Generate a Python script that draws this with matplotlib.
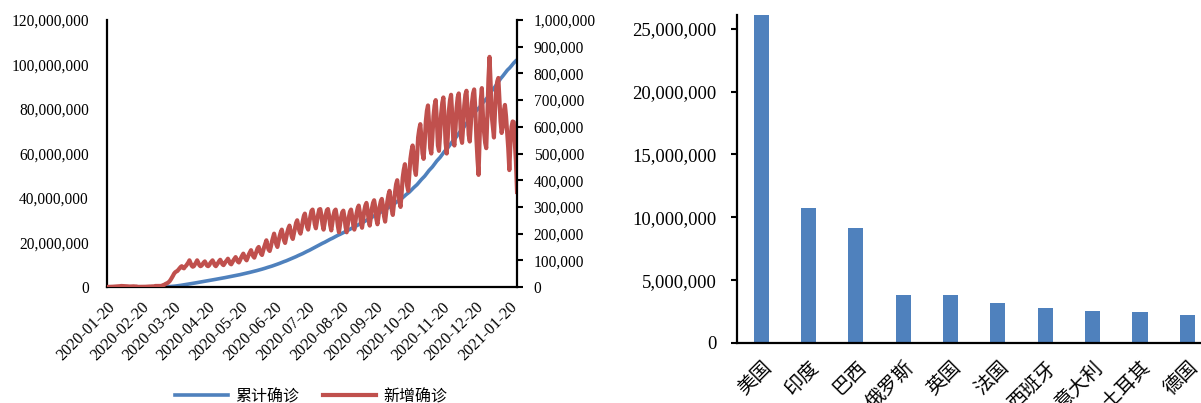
import numpy as np
import pandas as pd
import matplotlib
matplotlib.use("Agg")
import matplotlib.pyplot as plt
from matplotlib.ticker import FuncFormatter, MultipleLocator
from matplotlib.font_manager import FontProperties

# ---------------- data ----------------
start_date = "2020-01-20"

# daily new confirmed cases worldwide, in thousands (one row per week)
new_cases_k = [
    0.3, 0.4, 0.6, 0.7, 0.8, 1.1, 1.5,
    1.7, 2.0, 2.1, 2.6, 2.8, 3.2, 3.9,
    3.7, 3.2, 3.4, 2.7, 3.0, 2.5, 2.0,
    2.0, 2.1, 2.5, 2.6, 2.1, 2.0, 1.9,
    0.6, 0.6, 1.0, 1.0, 0.7, 0.7, 0.8,
    1.0, 1.3, 1.4, 1.8, 2.0, 1.9, 2.4,
    2.3, 2.8, 3.9, 4.0, 3.9, 4.0, 4.6,
    4, 5, 7, 8, 11, 13, 15,
    18, 22, 28, 35, 42, 50, 55,
    58, 60, 65, 70, 75, 78, 72,
    70, 76, 80, 86, 92, 100, 90,
    80, 76, 78, 85, 92, 100, 92,
    82, 78, 80, 86, 92, 96, 88,
    80, 78, 82, 90, 95, 100, 92,
    82, 78, 84, 90, 97, 102, 94,
    85, 82, 88, 95, 100, 106, 98,
    88, 85, 92, 100, 106, 112, 104,
    95, 92, 100, 110, 118, 125, 115,
    105, 100, 110, 122, 130, 138, 125,
    115, 110, 122, 135, 145, 150, 138,
    125, 120, 135, 150, 162, 175, 155,
    140, 135, 150, 170, 185, 200, 180,
    160, 150, 170, 190, 205, 215, 195,
    175, 165, 185, 205, 220, 230, 210,
    190, 180, 200, 220, 240, 250, 230,
    210, 200, 220, 245, 265, 275, 250,
    225, 215, 240, 265, 285, 290, 265,
    235, 220, 245, 270, 290, 292, 270,
    235, 215, 240, 270, 288, 292, 268,
    232, 212, 240, 268, 285, 290, 265,
    228, 205, 235, 262, 280, 286, 262,
    225, 205, 232, 262, 282, 290, 265,
    232, 215, 245, 275, 295, 305, 280,
    240, 222, 250, 285, 305, 315, 290,
    250, 230, 260, 295, 315, 325, 300,
    255, 235, 265, 300, 320, 330, 305,
    265, 245, 280, 320, 345, 360, 330,
    290, 270, 310, 355, 385, 400, 365,
    320, 300, 350, 410, 440, 460, 420,
    380, 360, 420, 480, 510, 530, 490,
    440, 420, 480, 560, 590, 610, 560,
    500, 480, 540, 620, 660, 680, 610,
    520, 500, 560, 640, 680, 700, 630,
    530, 510, 570, 650, 690, 710, 640,
    540, 500, 560, 660, 700, 720, 650,
    550, 530, 590, 670, 710, 725, 660,
    560, 540, 600, 680, 720, 735, 665,
    570, 545, 610, 690, 725, 740, 670,
    560, 480, 420, 560, 700, 745, 640,
    580, 540, 520, 640, 780, 862, 760,
    640, 600, 560, 660, 740, 770, 783,
    700, 620, 577, 600, 660, 682, 640,
    580, 520, 438, 540, 600, 620, 618,
    540, 470, 356,
]

date_ticks = ["2020-01-20", "2020-02-20", "2020-03-20", "2020-04-20",
              "2020-05-20", "2020-06-20", "2020-07-20", "2020-08-20",
              "2020-09-20", "2020-10-20", "2020-11-20", "2020-12-20",
              "2021-01-20"]

series_names = ["累计确诊", "新增确诊"]

countries = ["美国", "印度", "巴西", "俄罗斯", "英国", "法国",
             "西班牙", "意大利", "土耳其", "德国"]
country_cases = [26100000, 10740000, 9170000, 3820000, 3790000,
                 3180000, 2780000, 2520000, 2440000, 2200000]

# ---------------- styling ----------------
BLUE = "#4F81BD"
RED = "#C0504D"
plt.rcParams["font.family"] = ["Liberation Serif", "Noto Sans CJK SC"]
cjk = ["Noto Sans CJK SC", "DejaVu Sans"]

comma = FuncFormatter(lambda v, p: f"{int(round(v)):,}")

new_cases = np.array(new_cases_k, dtype=float) * 1000
cumulative = np.cumsum(new_cases)
dates = pd.date_range(start_date, periods=len(new_cases), freq="D")

fig = plt.figure(figsize=(12.01, 4.03), dpi=100)

# ---------------- left: global cumulative and daily new ----------------
ax1 = fig.add_axes([0.0891, 0.2878, 0.3414, 0.6625])
ax2 = ax1.twinx()
l1, = ax1.plot(dates, cumulative, color=BLUE, lw=2.6, label=series_names[0])
l2, = ax2.plot(dates, new_cases, color=RED, lw=3.0, label=series_names[1])

ax1.set_xlim(dates[0], dates[-1])
ax1.set_ylim(0, 120e6)
ax1.yaxis.set_major_locator(MultipleLocator(20e6))
ax1.yaxis.set_major_formatter(comma)
ax2.set_ylim(0, 1e6)
ax2.yaxis.set_major_locator(MultipleLocator(1e5))
ax2.yaxis.set_major_formatter(comma)

ax1.set_xticks(pd.to_datetime(date_ticks))
ax1.set_xticklabels(date_ticks, rotation=45, ha="right",
                    rotation_mode="anchor", fontsize=11.6)
ax1.tick_params(axis="x", length=0, pad=9)
ax1.tick_params(axis="y", length=0, pad=13, labelsize=11.2)
ax2.tick_params(axis="y", direction="out", length=4, width=1.5,
                pad=8, labelsize=11.2)

for ax in (ax1, ax2):
    ax.spines["top"].set_visible(False)
ax1.spines["right"].set_visible(False)
ax2.spines["left"].set_visible(False)
ax2.spines["bottom"].set_visible(False)
ax1.spines["left"].set_linewidth(1.6)
ax1.spines["bottom"].set_linewidth(1.6)
ax2.spines["right"].set_linewidth(1.6)

fig.legend([l1, l2], series_names, loc="center",
           bbox_to_anchor=(0.259, 0.016), ncol=2, frameon=False,
           prop=FontProperties(family=cjk, size=11.5),
           handlelength=3.3, columnspacing=1.5, handletextpad=0.45)

# ---------------- right: cumulative by country ----------------
ax3 = fig.add_axes([0.614, 0.1489, 0.3943, 0.8139])
x = np.arange(len(countries))
ax3.bar(x, country_cases, width=0.32, color=BLUE)
ax3.set_xlim(-0.5, len(countries) - 0.5)
ax3.set_ylim(0, 26.1e6)
ax3.yaxis.set_major_locator(MultipleLocator(5e6))
ax3.yaxis.set_major_formatter(comma)
ax3.set_xticks(x)
ax3.set_xticklabels(countries, rotation=45, ha="right",
                    rotation_mode="anchor", family=cjk, fontsize=14)
ax3.tick_params(axis="x", length=0, pad=10)
ax3.tick_params(axis="y", direction="out", length=4, width=1.5,
                pad=11, labelsize=13.4)
ax3.spines["top"].set_visible(False)
ax3.spines["right"].set_visible(False)
ax3.spines["left"].set_linewidth(1.6)
ax3.spines["bottom"].set_linewidth(1.6)

fig.savefig("out.png", dpi=100)
